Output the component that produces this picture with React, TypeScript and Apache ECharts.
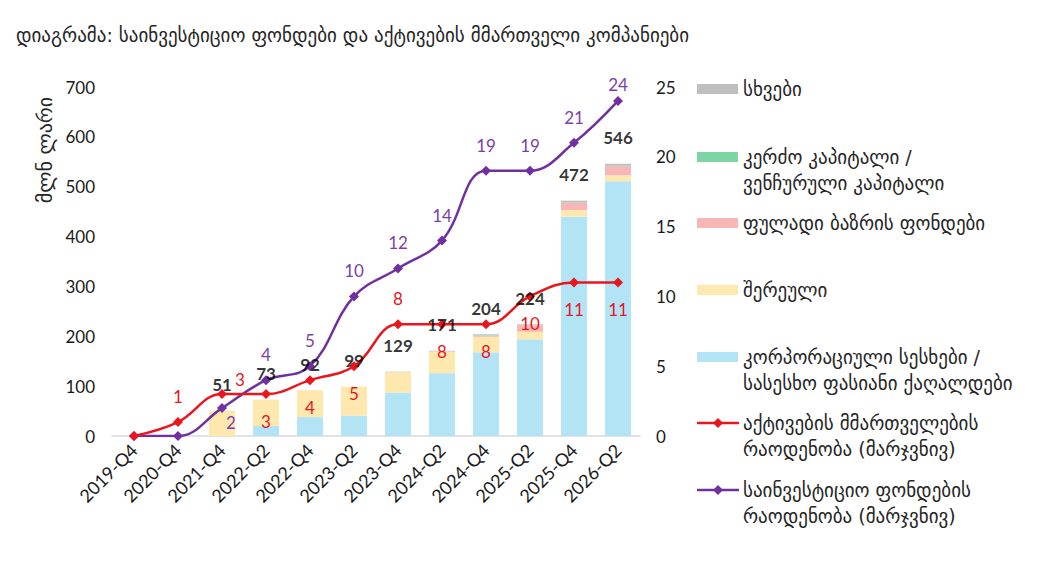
import React, { useEffect, useRef } from "react";
import * as echarts from "echarts";

const categories = ["2019-Q4", "2020-Q4", "2021-Q4", "2022-Q2", "2022-Q4", "2023-Q2", "2023-Q4", "2024-Q2", "2024-Q4", "2025-Q2", "2025-Q4", "2026-Q2"];
const corporate = [0, 0, 0, 20, 38, 41, 87, 126, 168, 194, 440, 511];
const mixed = [0, 0, 51, 53, 54, 58, 41, 43, 31, 15, 13, 12];
const moneyMarket = [0, 0, 0, 0, 0, 0, 0, 1, 2, 13, 15, 18];
const privateEquity = [0, 0, 0, 0, 0, 0, 0, 0, 1, 0, 1, 1];
const other = [0, 0, 0, 0, 0, 0, 1, 1, 2, 2, 3, 4];
const totals = [0, 0, 51, 73, 92, 99, 129, 171, 204, 224, 472, 546];
const assetManagers = [0, 1, 3, 3, 4, 5, 8, 8, 8, 10, 11, 11];
const investmentFunds = [0, 0, 2, 4, 5, 10, 12, 14, 19, 19, 21, 24];

const assetLabelPlacement = ["none", "top", "topRight", "bottom", "bottom", "bottom", "top", "bottom", "bottom", "bottom", "bottom", "bottom"];
const fundLabelPlacement = ["none", "none", "bottomRight", "top", "top", "top", "top", "top", "top", "top", "top", "topNear"];

const TITLE = "დიაგრამა: საინვესტიციო ფონდები და აქტივების მმართველი კომპანიები";
const Y_NAME = "მლნ ლარი";

const C_BLUE = "#B3E4F6";
const C_YELLOW = "#FFE8AE";
const C_PINK = "#F8B7B6";
const C_GREEN = "#7ED4A2";
const C_GRAY = "#BFBFBF";
const C_RED = "#E8161D";
const C_PURPLE = "#7030A0";

const FONT = "Lato, 'DejaVu Sans', sans-serif";
const GEO_FONT = "'DejaVu Sans', sans-serif";

function lineLabel(placement: string, color: string) {
  if (placement === "none") return { show: false };
  const base: any = { show: true, color, fontSize: 17, fontFamily: FONT };
  switch (placement) {
    case "top":
      return { ...base, position: "top", distance: 12 };
    case "topNear":
      return { ...base, position: "top", distance: 3 };
    case "bottom":
      return { ...base, position: "bottom", distance: 14 };
    case "topRight":
      return { ...base, position: "top", distance: 1, offset: [18, 0] };
    case "bottomRight":
      return { ...base, position: "bottom", distance: 1, offset: [9, 0] };
  }
  return base;
}

const legendItems = [
  { kind: "rect", color: C_GRAY, lines: ["სხვები"], y: 89 },
  { kind: "rect", color: C_GREEN, lines: ["კერძო კაპიტალი /", "ვენჩურული კაპიტალი"], y: 157 },
  { kind: "rect", color: C_PINK, lines: ["ფულადი ბაზრის ფონდები"], y: 223 },
  { kind: "rect", color: C_YELLOW, lines: ["შერეული"], y: 290 },
  { kind: "rect", color: C_BLUE, lines: ["კორპორაციული სესხები /", "სასესხო ფასიანი ქაღალდები"], y: 357 },
  { kind: "line", color: C_RED, lines: ["აქტივების მმართველების", "რაოდენობა (მარჯვნივ)"], y: 423 },
  { kind: "line", color: C_PURPLE, lines: ["საინვესტიციო ფონდების", "რაოდენობა (მარჯვნივ)"], y: 490 },
];

function buildLegend() {
  const els: any[] = [];
  legendItems.forEach((it) => {
    if (it.kind === "rect") {
      els.push({ type: "rect", shape: { x: 697, y: it.y - 5, width: 41, height: 10 }, style: { fill: it.color } });
    } else {
      els.push({ type: "line", shape: { x1: 697, y1: it.y, x2: 739, y2: it.y }, style: { stroke: it.color, lineWidth: 2.5 } });
      els.push({ type: "polygon", shape: { points: [[718, it.y - 5], [723, it.y], [718, it.y + 5], [713, it.y]] }, style: { fill: it.color } });
    }
    it.lines.forEach((t, i) => {
      els.push({
        type: "text",
        x: 743,
        y: it.y + i * 26,
        style: { text: t, fill: "#262626", fontSize: 19, fontFamily: GEO_FONT, verticalAlign: "middle", align: "left" },
      });
    });
  });
  return els;
}

export default function App() {
  const ref = useRef<HTMLDivElement>(null);
  useEffect(() => {
    if (!ref.current) return;
    const chart = echarts.init(ref.current, null, { renderer: "svg" });
    const barSeries = (name: string, data: number[], color: string) => ({
      name,
      type: "bar",
      stack: "funds",
      yAxisIndex: 0,
      barWidth: 26,
      data,
      itemStyle: { color },
      emphasis: { disabled: true },
    });
    chart.setOption({
      animation: false,
      backgroundColor: "#ffffff",
      grid: { left: 112, top: 87, width: 528, height: 349, containLabel: false },
      xAxis: {
        type: "category",
        data: categories,
        axisLine: { show: true, lineStyle: { color: "#D9D9D9", width: 1.5 } },
        axisTick: { show: false },
        axisLabel: { rotate: 45, color: "#1a1a1a", fontSize: 18, fontFamily: FONT, margin: 11, interval: 0 },
      },
      yAxis: [
        {
          type: "value",
          min: 0,
          max: 700,
          interval: 100,
          axisLine: { show: false },
          axisTick: { show: false },
          splitLine: { show: false },
          axisLabel: { color: "#1a1a1a", fontSize: 17, fontFamily: FONT, margin: 17 },
        },
        {
          type: "value",
          min: 0,
          max: 25,
          interval: 5,
          axisLine: { show: false },
          axisTick: { show: false },
          splitLine: { show: false },
          axisLabel: { color: "#1a1a1a", fontSize: 17, fontFamily: FONT, margin: 16 },
        },
      ],
      series: [
        barSeries("corporate", corporate, C_BLUE),
        barSeries("mixed", mixed, C_YELLOW),
        barSeries("moneyMarket", moneyMarket, C_PINK),
        barSeries("privateEquity", privateEquity, C_GREEN),
        barSeries("other", other, C_GRAY),
        {
          name: "totals",
          type: "scatter",
          yAxisIndex: 0,
          symbolSize: 1,
          itemStyle: { color: "rgba(0,0,0,0)" },
          data: totals,
          z: 10,
          label: {
            show: true,
            position: "top",
            distance: 17,
            color: "#000",
            fontWeight: "bold",
            fontSize: 17,
            fontFamily: FONT,
            formatter: (p: any) => (p.value ? String(p.value) : ""),
          },
        },
        {
          name: "funds",
          type: "line",
          yAxisIndex: 1,
          smooth: 0.4,
          symbol: "diamond",
          symbolSize: 10,
          lineStyle: { color: C_PURPLE, width: 2.5 },
          itemStyle: { color: C_PURPLE },
          data: investmentFunds.map((v, i) => ({ value: v, label: lineLabel(fundLabelPlacement[i], "#7A3FAE") })),
          z: 5,
        },
        {
          name: "managers",
          type: "line",
          yAxisIndex: 1,
          smooth: 0.4,
          symbol: "diamond",
          symbolSize: 10,
          lineStyle: { color: C_RED, width: 2.5 },
          itemStyle: { color: C_RED },
          data: assetManagers.map((v, i) => ({ value: v, label: lineLabel(assetLabelPlacement[i], C_RED) })),
          z: 6,
        },
      ],
      graphic: [
        {
          type: "text",
          x: 16,
          y: 35,
          style: { text: TITLE, fill: "#262626", fontSize: 19, fontFamily: GEO_FONT, verticalAlign: "middle" },
        },
        {
          type: "text",
          x: 45,
          y: 150,
          rotation: Math.PI / 2,
          style: { text: Y_NAME, fill: "#262626", fontSize: 20, fontFamily: GEO_FONT, align: "center", verticalAlign: "middle" },
        },
        ...buildLegend(),
      ],
    });
    return () => chart.dispose();
  }, []);
  return <div ref={ref} style={{ position: "fixed", left: 0, top: 0, width: 1037, height: 578 }} />;
}
